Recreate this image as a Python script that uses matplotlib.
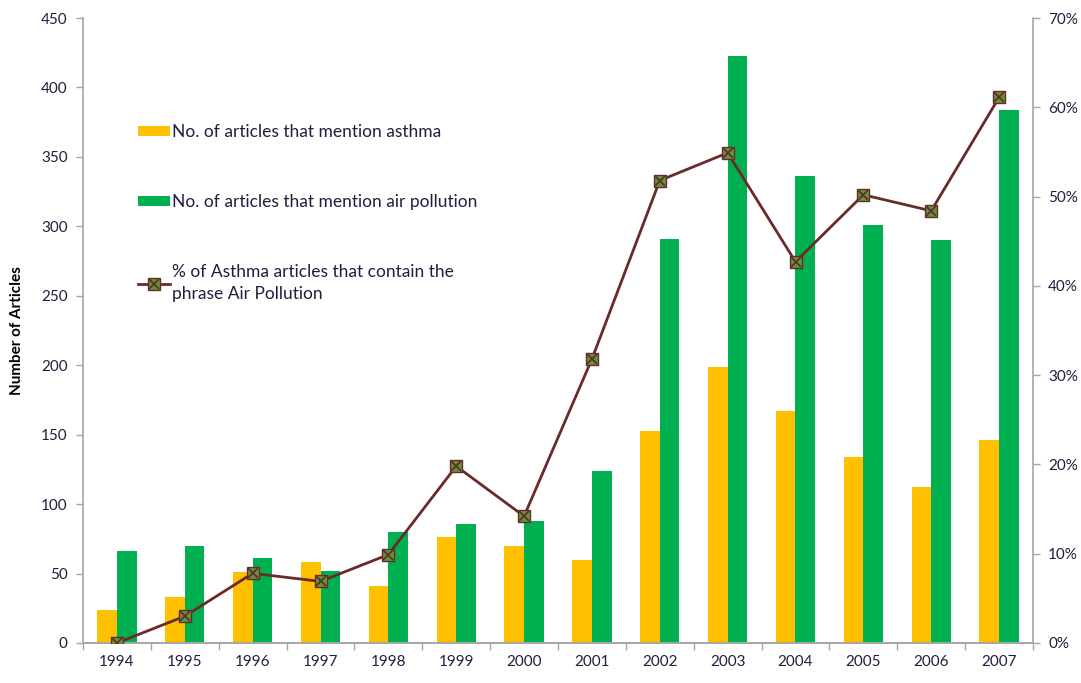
import numpy as np
import matplotlib
matplotlib.use("Agg")
import matplotlib.pyplot as plt
from matplotlib.ticker import PercentFormatter, FixedLocator

years = ["1994", "1995", "1996", "1997", "1998", "1999", "2000",
         "2001", "2002", "2003", "2004", "2005", "2006", "2007"]
asthma = [24, 33, 51, 58, 41, 76, 70, 60, 153, 199, 167, 134, 112, 146]
air_pollution = [66, 70, 61, 52, 80, 86, 88, 124, 291, 423, 336, 301, 290, 384]
pct_both = [0.0, 3.0, 7.8, 6.9, 9.9, 19.8, 14.2, 31.8, 51.8, 54.9, 42.7, 50.2, 48.4, 61.1]

plt.rcParams['font.family'] = ['Lato', 'DejaVu Sans']
text_col = '#1f1f3f'
spine_col = '#a6a6a6'
orange = '#ffc000'
green = '#00b050'
brown = '#6b2a2a'
mark_green = '#5a9a3a'

fig = plt.figure(figsize=(10.81, 6.83), dpi=100)
ax = fig.add_axes([83 / 1081, 40 / 683, 950 / 1081, 625 / 683])
ax2 = ax.twinx()

x = np.arange(len(years))
w = 0.29
b1 = ax.bar(x - w / 2, asthma, w, color=orange, zorder=2)
b2 = ax.bar(x + w / 2, air_pollution, w, color=green, zorder=2)

ln, = ax2.plot(x, pct_both, color=brown, lw=2, marker='s', ms=8,
               mfc=mark_green, mec=brown, mew=1.0, zorder=3)
lx, = ax2.plot(x, pct_both, ls='none', marker='x', ms=7, mec=brown, mew=1.3, zorder=4)

ax.set_xlim(-0.5, len(years) - 0.5)
ax.set_ylim(0, 450)
ax2.set_ylim(0, 70)
ax.set_yticks(range(0, 451, 50))
ax2.set_yticks(range(0, 71, 10))
ax2.yaxis.set_major_formatter(PercentFormatter(decimals=0))

ax.set_xticks(x)
ax.set_xticklabels(years)
ax.xaxis.set_minor_locator(FixedLocator(np.arange(-0.5, len(years), 1)))
ax.tick_params(axis='x', which='major', length=0, pad=9)
ax.tick_params(axis='x', which='minor', length=5, color=spine_col, width=1)

for a in (ax, ax2):
    for s in a.spines.values():
        s.set_color(spine_col)
        s.set_linewidth(1.2)
    a.spines['top'].set_visible(False)
    a.tick_params(axis='y', length=5, color=spine_col, width=1, labelsize=11,
                  labelcolor=text_col, pad=6)
ax.tick_params(axis='x', labelsize=11, labelcolor=text_col)
ax2.spines['left'].set_visible(False)
ax.spines['right'].set_visible(False)

ax.set_ylabel('Number of Articles', fontsize=11, fontweight='bold', color='black', labelpad=12)

leg = ax.legend([b1, b2, (ln, lx)],
                ['No. of articles that mention asthma',
                 'No. of articles that mention air pollution',
                 '% of Asthma articles that contain the\nphrase Air Pollution'],
                loc='upper left', bbox_to_anchor=(0.041, 0.855), frameon=False,
                fontsize=12.5, labelspacing=3.1, handlelength=1.85, handletextpad=0.15,
                handleheight=0.5)
for t in leg.get_texts():
    t.set_color(text_col)
    t.set_linespacing(1.5)

fig.savefig('out.png', dpi=100)
